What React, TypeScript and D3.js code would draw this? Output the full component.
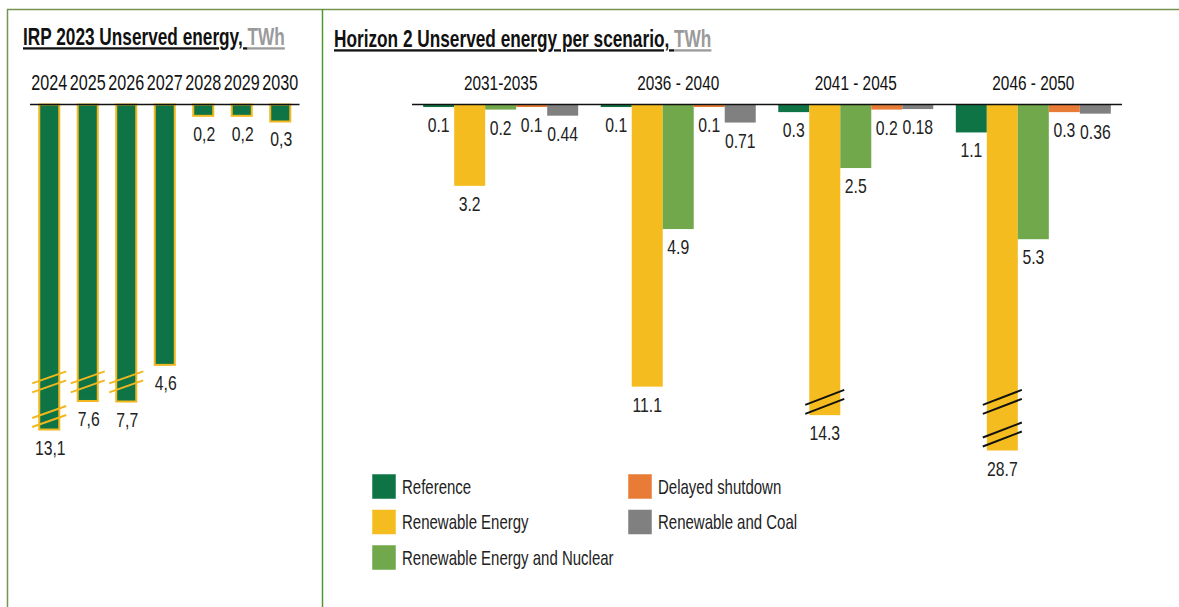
import React from "react";
import * as d3 from "d3";

const width = 1179;
const height = 607;
const font = "'Liberation Sans', Arial, sans-serif";
const squeeze = 0.75; // narrow the glyphs horizontally, like a condensed face

// IRP 2023 (left panel)
const years = ["2024", "2025", "2026", "2027", "2028", "2029", "2030"];
const irpValues = [13.1, 7.6, 7.7, 4.6, 0.2, 0.2, 0.3];
const irpBreaks = [2, 1, 1, 0, 0, 0, 0];
const irpBreakValues = [4.9, 10.6];

// Horizon 2 (right panel)
const periods = ["2031-2035", "2036 - 2040", "2041 - 2045", "2046 - 2050"];
const scenarios = [
  "Reference",
  "Renewable Energy",
  "Renewable Energy and Nuclear",
  "Delayed shutdown",
  "Renewable and Coal",
];
const referenceValues = [0.1, 0.1, 0.3, 1.1];
const renewableValues = [3.2, 11.1, 14.3, 28.7];
const nuclearValues = [0.2, 4.9, 2.5, 5.3];
const delayedValues = [0.1, 0.1, 0.2, 0.3];
const coalValues = [0.44, 0.71, 0.18, 0.36];
const renewableBreaks = [0, 0, 1, 2];
const horizonBreakValues = [11.7, 22.2];

const colors = ["#0e7446", "#f5bc1f", "#70a84b", "#e87c36", "#808080"];

const axisY = 104.5;

type TProps = {
  x: number;
  y: number;
  size: number;
  anchor?: "start" | "middle" | "end";
  weight?: string;
  fill?: string;
  children: React.ReactNode;
};

// condensed text helper
const T = ({ x, y, size, anchor = "start", weight = "normal", fill = "#222", children }: TProps) => (
  <text
    transform={`translate(${x},${y}) scale(${squeeze},1)`}
    textAnchor={anchor}
    fontFamily={font}
    fontSize={size}
    fontWeight={weight}
    fill={fill}
  >
    {children}
  </text>
);

const Title = ({ x, y, text }: { x: number; y: number; text: string }) => (
  <T x={x} y={y} size={23} weight="bold">
    <tspan fill="#111" textDecoration="underline">{text}</tspan>
    <tspan fill="#9a9a9a" textDecoration="underline">TWh</tspan>
  </T>
);

const BreakMark = ({ x0, x1, y, dy, color }: { x0: number; x1: number; y: number; dy: number; color: string }) => (
  <g stroke={color} strokeWidth={2}>
    {[-4.5, 4.5].map(d => (
      <line key={d} x1={x0} y1={y + d + dy / 2} x2={x1} y2={y + d - dy / 2} />
    ))}
  </g>
);

const App = () => {
  // left panel scales
  const xLeft = d3.scaleBand().domain(years).range([30, 299.5]).paddingInner(0.48).paddingOuter(0.24);
  const yLeft = d3.scaleLinear().domain([0, 5, 13.1]).range([axisY, axisY + 283, axisY + 325]);

  // right panel scales
  const x0 = d3.scaleBand().domain(periods).range([412, 1122]).paddingInner(0.127).paddingOuter(0.063);
  const x1 = d3.scaleBand().domain(scenarios).range([0, x0.bandwidth()]);
  const yRight = d3.scaleLinear().domain([0, 12, 28.7]).range([axisY, axisY + 305, axisY + 346]);

  const series = [referenceValues, renewableValues, nuclearValues, delayedValues, coalValues];
  const color = d3.scaleOrdinal<string, string>().domain(scenarios).range(colors);

  const legendCols = [scenarios.slice(0, 3), scenarios.slice(3)];

  return (
    <svg width={width} height={height} style={{ position: "absolute", left: 0, top: 0, background: "#fff" }}>
      {/* frame */}
      <line x1={7} y1={9.5} x2={width} y2={9.5} stroke="#76934f" strokeWidth={1.5} />
      <line x1={7.5} y1={9} x2={7.5} y2={height} stroke="#76934f" strokeWidth={1.5} />
      <line x1={322.5} y1={9} x2={322.5} y2={height} stroke="#4f9a30" strokeWidth={1.5} />

      {/* left panel */}
      <Title x={23} y={45} text="IRP 2023 Unserved energy, " />
      {years.map(y => (
        <T key={y} x={xLeft(y)! + xLeft.bandwidth() / 2} y={90} anchor="middle" size={21.5} fill="#111">
          {y}
        </T>
      ))}
      {irpValues.map((v, i) => {
        const bx = xLeft(years[i])!;
        const bw = xLeft.bandwidth();
        return (
          <g key={i}>
            <rect x={bx} y={axisY} width={bw} height={yLeft(v) - axisY} fill={colors[0]} stroke="#f2b71f" strokeWidth={2} />
            {irpBreakValues.slice(0, irpBreaks[i]).map(b => (
              <BreakMark key={b} x0={bx - 7} x1={bx + bw + 7} y={yLeft(b)} dy={12} color="#f2b71f" />
            ))}
            <T x={bx + bw / 2 + 1} y={yLeft(v) + 25} anchor="middle" size={21}>
              {d3.format(".1f")(v).replace(".", ",")}
            </T>
          </g>
        );
      })}
      <line x1={30} y1={axisY} x2={299.5} y2={axisY} stroke="#111" strokeWidth={1.5} />

      {/* right panel */}
      <Title x={334} y={47} text="Horizon 2 Unserved energy per scenario, " />
      {periods.map(p => (
        <T key={p} x={x0(p)! + x0.bandwidth() / 2} y={90} anchor="middle" size={20.5} fill="#111">
          {p}
        </T>
      ))}
      {periods.map((p, gi) => (
        <g key={p} transform={`translate(${x0(p)},0)`}>
          {scenarios.map((s, si) => {
            const v = series[si][gi];
            const bx = x1(s)!;
            const bw = x1.bandwidth();
            const breaks = si === 1 ? horizonBreakValues.slice(0, renewableBreaks[gi]) : [];
            return (
              <g key={s}>
                <rect x={bx} y={axisY} width={bw} height={yRight(v) - axisY} fill={color(s)} />
                {breaks.map(b => (
                  <BreakMark key={b} x0={bx - 4} x1={bx + bw + 4} y={yRight(b)} dy={15} color="#111" />
                ))}
                <T x={bx + bw / 2} y={yRight(v) + 25} anchor="middle" size={21}>
                  {String(v)}
                </T>
              </g>
            );
          })}
        </g>
      ))}
      <line x1={412} y1={axisY} x2={1122} y2={axisY} stroke="#111" strokeWidth={1.5} />

      {/* legend */}
      {legendCols.map((col, ci) =>
        col.map((s, ri) => (
          <g key={s} transform={`translate(${ci === 0 ? 372 : 628},${474 + ri * 35.5})`}>
            <rect width={24} height={25} fill={color(s)} stroke="#fff" strokeOpacity={0.5} />
            <T x={30} y={19.5} size={20}>
              {s}
            </T>
          </g>
        ))
      )}
    </svg>
  );
};

export default App;
